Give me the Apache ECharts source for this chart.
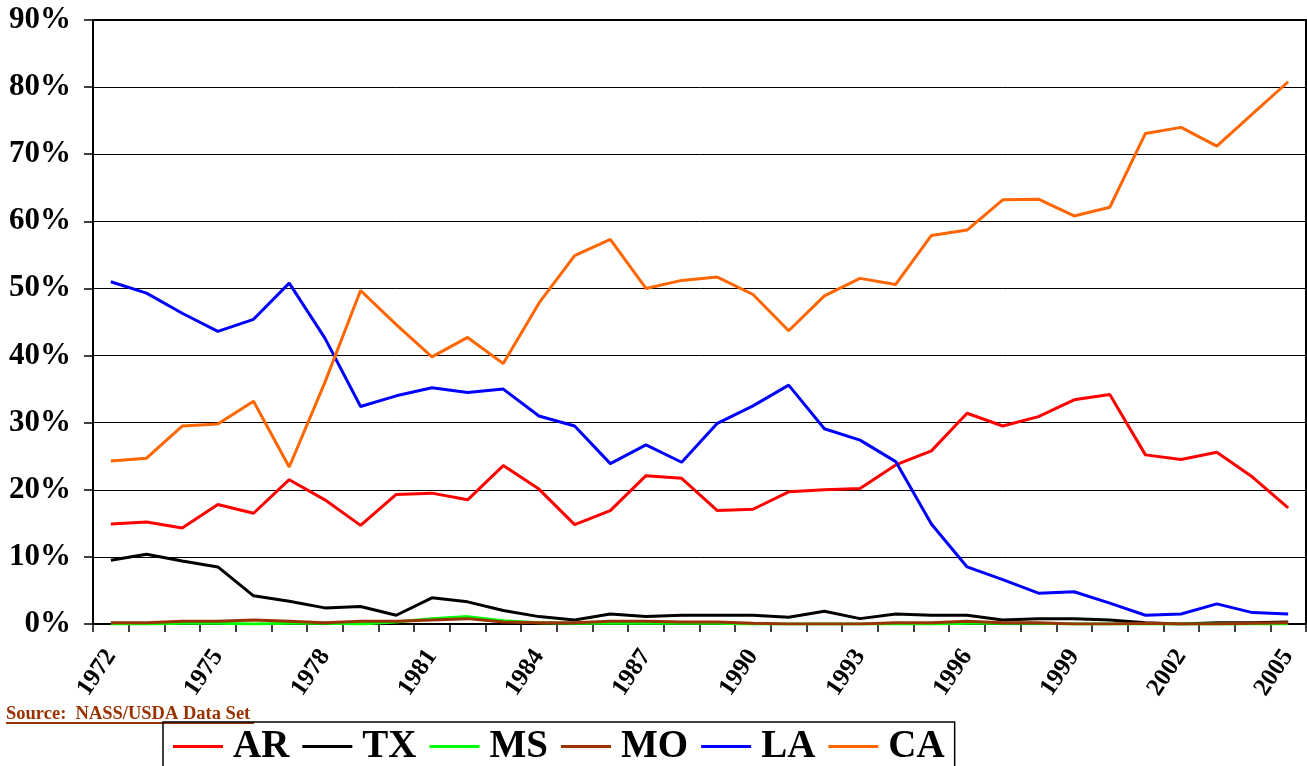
<!DOCTYPE html>
<html>
<head>
<meta charset="utf-8">
<style>
  html, body { margin: 0; padding: 0; background: #fff; }
  #chart { width: 1307px; height: 766px; }
</style>
<script src="https://cdn.jsdelivr.net/npm/echarts@6/dist/echarts.min.js"></script>
</head>
<body>
<div id="chart"></div>
<script>
// years on the x axis
const years = ['1972','1973','1974','1975','1976','1977','1978','1979','1980','1981','1982','1983',
  '1984','1985','1986','1987','1988','1989','1990','1991','1992','1993','1994','1995','1996','1997',
  '1998','1999','2000','2001','2002','2003','2004','2005'];

// share of production, percent
const AR = [14.9,15.2,14.3,17.8,16.5,21.5,18.5,14.7,19.3,19.5,18.5,23.6,20.1,14.8,16.9,22.1,21.7,16.9,
  17.1,19.7,20.0,20.2,23.7,25.8,31.4,29.5,30.9,33.4,34.2,25.2,24.5,25.6,21.9,17.3];
const TX = [9.5,10.4,9.4,8.5,4.2,3.4,2.4,2.6,1.3,3.9,3.3,2.0,1.1,0.6,1.5,1.1,1.3,1.3,1.3,1.0,1.9,0.8,
  1.5,1.3,1.3,0.6,0.8,0.8,0.6,0.2,0.0,0.2,0.2,0.3];
const MS = [0,0,0.1,0.1,0,0.1,0.1,0,0.3,0.8,1.1,0.5,0.2,0.1,0.1,0.1,0.1,0.1,0,0,0,0,0,0,0.1,0.1,0.1,
  0,0,0,0,0,0,0];
const MO = [0.2,0.2,0.4,0.4,0.6,0.4,0.2,0.4,0.4,0.6,0.8,0.3,0.2,0.2,0.4,0.4,0.3,0.3,0.1,0,0,0,0.2,0.2,
  0.4,0.2,0.2,0,0,0.1,0,0,0.1,0.2];
const LA = [51.0,49.3,46.3,43.6,45.4,50.8,42.6,32.4,34.0,35.2,34.5,35.0,31.0,29.5,23.9,26.7,24.1,29.9,
  32.5,35.6,29.1,27.4,24.2,14.9,8.5,6.6,4.6,4.8,3.1,1.3,1.5,3.0,1.7,1.5];
const CA = [24.3,24.7,29.5,29.8,33.2,23.4,36.0,49.7,44.6,39.8,42.7,38.8,47.8,54.9,57.3,50.0,51.2,51.7,
  49.1,43.7,48.9,51.5,50.6,57.9,58.7,63.2,63.3,60.8,62.1,73.1,74.0,71.2,76.0,80.8];

const seriesNames = ['AR', 'TX', 'MS', 'MO', 'LA', 'CA'];
const seriesData = [AR, TX, MS, MO, LA, CA];
const seriesColors = ['#ff0000', '#000000', '#00ff00', '#993300', '#0000ff', '#ff6600'];

const serif = "'Liberation Serif', 'DejaVu Serif', serif";

const chart = echarts.init(document.getElementById('chart'));

chart.setOption({
  animation: false,
  backgroundColor: '#fff',
  grid: {
    left: 93, right: 1, top: 20, bottom: 142,
    show: true, borderColor: '#000', borderWidth: 2
  },
  legend: {
    data: seriesNames,
    left: 163, top: 722,
    icon: 'rect', itemWidth: 50, itemHeight: 3, itemGap: 13,
    padding: [5, 10, 30, 10],
    borderColor: '#000', borderWidth: 1.5,
    textStyle: { fontFamily: serif, fontWeight: 'bold', fontSize: 39, color: '#000', padding: [0, 0, 0, 5] }
  },
  graphic: [
    {
      type: 'text', left: 6, top: 705,
      style: { text: 'Source:  NASS/USDA Data Set', fill: '#993300', font: 'bold 18.5px ' + serif }
    },
    {
      type: 'line', shape: { x1: 6, y1: 723, x2: 254, y2: 723 },
      style: { stroke: '#993300', lineWidth: 2 }
    }
  ],
  xAxis: {
    type: 'category',
    data: years,
    boundaryGap: true,
    axisLine: { lineStyle: { color: '#000', width: 2 } },
    axisTick: { show: true, interval: 0, length: 8, lineStyle: { color: '#000', width: 1.5 } },
    axisLabel: {
      interval: 2, rotate: 56, margin: 28,
      fontFamily: serif, fontWeight: 'bold', fontSize: 25, color: '#000'
    },
    splitLine: { show: false }
  },
  yAxis: {
    type: 'value',
    min: 0, max: 90, interval: 10,
    axisLine: { show: true, lineStyle: { color: '#000', width: 2 } },
    axisTick: { show: true, length: 9, lineStyle: { color: '#000', width: 1.5 } },
    axisLabel: {
      formatter: '{value}%', margin: 22,
      fontFamily: serif, fontWeight: 'bold', fontSize: 31, color: '#000'
    },
    splitLine: { show: true, lineStyle: { color: '#000', width: 1 } }
  },
  series: seriesNames.map((name, i) => ({
    name: name,
    type: 'line',
    data: seriesData[i],
    showSymbol: false,
    symbol: 'none',
    color: seriesColors[i],
    lineStyle: { color: seriesColors[i], width: 3 }
  }))
});
</script>
</body>
</html>
